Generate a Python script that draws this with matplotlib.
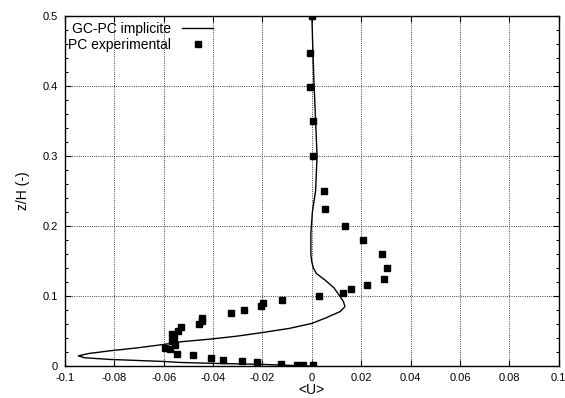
import matplotlib
matplotlib.use("Agg")
import matplotlib.pyplot as plt
from matplotlib.ticker import MultipleLocator, FuncFormatter

plt.rcParams['font.family'] = ['Liberation Sans', 'DejaVu Sans']

# GC-PC implicite profile (z/H, <U>)
line_z = [0.5, 0.45, 0.41, 0.35, 0.30, 0.25, 0.22, 0.19, 0.16, 0.15, 0.14, 0.132, 0.123,
          0.112, 0.10, 0.092, 0.085, 0.078, 0.069, 0.061, 0.054, 0.048, 0.043, 0.039,
          0.0347, 0.031, 0.026, 0.0219, 0.018, 0.0147, 0.012, 0.0096, 0.0067, 0.0053,
          0.004, 0.0025, 0.001, 0.0]
line_u = [0.0, 0.0004, 0.0008, 0.0015, 0.0021, 0.0015, 0.0002, -0.0004, -0.0004, -0.0001,
          0.0006, 0.0019, 0.0053, 0.0089, 0.0113, 0.0128, 0.0134, 0.0115, 0.0057, 0.0,
          -0.009, -0.02, -0.030, -0.04, -0.0534, -0.06, -0.071, -0.0818, -0.0905, -0.0946,
          -0.092, -0.0818, -0.06, -0.0534, -0.04, -0.02, -0.008, 0.0]

# PC experimental points
exp_u = [0.0, -0.0007, -0.0007, 0.0005, 0.0005, 0.005, 0.0054, 0.0135, 0.0208, 0.0282,
         0.0305, 0.0293, 0.0224, 0.016, 0.0127, 0.003, -0.012, -0.0197, -0.0205, -0.0274,
         -0.0327, -0.0444, -0.0444, -0.0457, -0.053, -0.0541, -0.0566, -0.0557, -0.0566,
         -0.0553, -0.0594, -0.0574, -0.0545, -0.048, -0.0408, -0.0359, -0.0282, -0.0221,
         -0.0124, -0.006, -0.0035, 0.0003]
exp_z = [0.5, 0.447, 0.399, 0.35, 0.30, 0.2495, 0.225, 0.1995, 0.18, 0.1595,
         0.1395, 0.124, 0.1157, 0.1095, 0.104, 0.1, 0.095, 0.0895, 0.0857, 0.0795,
         0.0752, 0.069, 0.065, 0.0595, 0.0553, 0.05, 0.0453, 0.0396, 0.0353,
         0.03, 0.0253, 0.0243, 0.0167, 0.0153, 0.0114, 0.0086, 0.0067, 0.0053,
         0.0024, 0.001, 0.001, 0.001]

x_ticks = [-0.1, -0.08, -0.06, -0.04, -0.02, 0, 0.02, 0.04, 0.06, 0.08, 0.1]
y_ticks = [0, 0.1, 0.2, 0.3, 0.4, 0.5]

fig = plt.figure(figsize=(5.65, 3.98), dpi=100)
ax = fig.add_axes([0.115, 0.080, 0.874, 0.880])

ax.plot(line_u, line_z, color='black', lw=1.0, label='GC-PC implicite', zorder=3)
ax.plot(exp_u, exp_z, linestyle='none', marker='s', ms=4.2, color='black',
        label='PC experimental', zorder=4)

ax.set_xlim(-0.1, 0.1)
ax.set_ylim(0, 0.5)
ax.set_xticks(x_ticks)
ax.set_yticks(y_ticks)
ax.yaxis.set_minor_locator(MultipleLocator(0.02))
ax.xaxis.set_major_formatter(FuncFormatter(lambda v, p: '%g' % round(v, 4)))
ax.yaxis.set_major_formatter(FuncFormatter(lambda v, p: '%g' % round(v, 4)))
ax.tick_params(direction='in', top=True, right=True, which='both', labelsize=8,
               length=4, width=0.8, pad=5)
ax.tick_params(which='minor', length=2.5)
ax.grid(True, linestyle=':', color='black', lw=0.6)
for s in ax.spines.values():
    s.set_linewidth(1.0)

ax.set_xlabel('<U>', fontsize=10, labelpad=0)
ax.set_ylabel('z/H (-)', fontsize=10, labelpad=9)

leg = ax.legend(loc='upper left', bbox_to_anchor=(-0.007, 1.0), frameon=False,
                markerfirst=False, fontsize=10,
                handlelength=2.25, borderaxespad=0.0, handletextpad=0.8,
                labelspacing=0.12, borderpad=0.45)

fig.savefig('out.png', dpi=100)
